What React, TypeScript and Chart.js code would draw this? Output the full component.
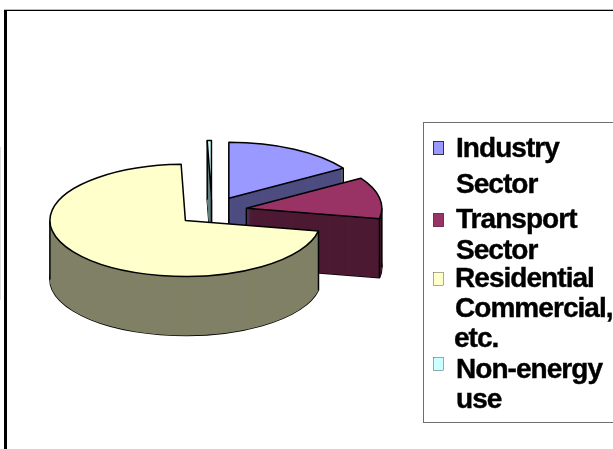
import React, { useEffect, useRef } from "react";
import { Chart, registerables } from "chart.js";

Chart.register(...registerables);

const categories = ["Industry Sector", "Transport Sector", "Residential Commercial, etc.", "Non-energy use"];
const shareValues = [16, 12, 71.5, 0.5];
const topColors = ["#9999FF", "#993366", "#FFFFCC", "#CCFFFF"];
const wallColors = ["#4D4D80", "#4D1A33", "#808066", "#668080"];
const legendLines = [["Industry", "Sector"], ["Transport", "Sector"], ["Residential", "Commercial,", "etc."], ["Non-energy", "use"]];

const TILT = 0.414;
const DEPTH = 59;
const EXPLODE = 35;

function sector(ctx: CanvasRenderingContext2D, cx: number, cy: number, r: number, a0: number, a1: number) {
  ctx.beginPath();
  ctx.moveTo(cx, cy);
  ctx.ellipse(cx, cy, r, r * TILT, 0, a0, a1);
  ctx.closePath();
}

const pie3d = {
  id: "pie3d",
  beforeDraw(chart: any) {
    const ctx = chart.ctx as CanvasRenderingContext2D;
    ctx.save();
    ctx.fillStyle = "#fff";
    ctx.fillRect(0, 0, chart.width, chart.height);
    ctx.fillStyle = "#bbb";
    ctx.fillRect(4, 9, chart.width - 4, 1);
    ctx.fillStyle = "#000";
    ctx.fillRect(4, 10, chart.width - 4, 1);
    ctx.fillRect(4, 10, 3, chart.height - 10);
    ctx.fillStyle = "#ddd";
    ctx.fillRect(0, 147, 1, 153);
    ctx.restore();
  },
  beforeDatasetDraw(chart: any) {
    const ctx = chart.ctx as CanvasRenderingContext2D;
    const arcs = chart.getDatasetMeta(0).data as any[];
    const order = arcs
      .map((arc, i) => ({ arc, i, mid: (arc.startAngle + arc.endAngle) / 2 }))
      .sort((p, q) => Math.sin(p.mid) - Math.sin(q.mid));
    ctx.save();
    ctx.lineJoin = "round";
    for (const { arc, i, mid } of order) {
      const r = arc.outerRadius;
      const a0 = arc.startAngle;
      const a1 = arc.endAngle;
      const cx = arc.x + Math.cos(mid) * EXPLODE;
      const cy = arc.y + Math.sin(mid) * EXPLODE * TILT;

      ctx.strokeStyle = "#000";
      ctx.lineWidth = 1.5;
      sector(ctx, cx, cy + DEPTH, r, a0, a1);
      ctx.stroke();
      ctx.fillStyle = wallColors[i];
      for (let d = DEPTH; d >= 0; d--) {
        sector(ctx, cx, cy + d, r, a0, a1);
        ctx.fill();
      }

      const startFace = -Math.cos(a0) > 0;
      const endFace = Math.cos(a1) > 0;
      const edges: number[] = [];
      if (Math.sin(a0) > 0 || startFace) edges.push(a0);
      if (Math.sin(a1) > 0 || endFace) edges.push(a1);
      for (const t of [0, Math.PI, 2 * Math.PI]) if (t > a0 && t < a1) edges.push(t);
      const vertical = (x: number, y: number) => {
        ctx.beginPath();
        ctx.moveTo(x, y);
        ctx.lineTo(x, y + DEPTH);
        ctx.stroke();
      };
      for (const e of edges) vertical(cx + Math.cos(e) * r, cy + Math.sin(e) * r * TILT);
      if (startFace || endFace) vertical(cx, cy);

      ctx.save();
      ctx.translate(cx, cy);
      ctx.scale(1, TILT);
      ctx.translate(-arc.x, -arc.y);
      arc.draw(ctx);
      ctx.restore();

      ctx.strokeStyle = "#000";
      ctx.lineWidth = 1.5;
      sector(ctx, cx, cy, r, a0, a1);
      ctx.stroke();
    }
    ctx.restore();
    return false;
  },
  afterDraw(chart: any) {
    const ctx = chart.ctx as CanvasRenderingContext2D;
    ctx.save();
    ctx.strokeStyle = "#6e6e6e";
    ctx.lineWidth = 1;
    ctx.strokeRect(423.5, 122.5, 200, 300);
    const swatchY = [141, 213, 272, 357];
    const firstX = [456, 456, 455, 456];
    const rows = [[157, 193], [228, 259], [287, 317, 347], [378, 408]];
    const restX = [[456], [456], [455, 454], [456]];
    categories.forEach((_, i) => {
      ctx.fillStyle = topColors[i];
      ctx.strokeStyle = "#333";
      ctx.fillRect(433, swatchY[i], 11, 14);
      ctx.strokeRect(433.5, swatchY[i] + 0.5, 10, 13);
      ctx.fillStyle = "#000";
      ctx.strokeStyle = "#000";
      ctx.lineWidth = 0.4;
      ctx.font = "bold 28px 'Liberation Sans'";
      (ctx as any).letterSpacing = "-0.95px";
      ctx.textBaseline = "alphabetic";
      legendLines[i].forEach((line, j) => {
        const x = j === 0 ? firstX[i] : restX[i][j - 1];
        ctx.fillText(line, x, rows[i][j]);
        ctx.strokeText(line, x, rows[i][j]);
      });
    });
    ctx.restore();
  },
};

export default function App() {
  const ref = useRef<HTMLCanvasElement>(null);
  useEffect(() => {
    const chart = new Chart(ref.current as HTMLCanvasElement, {
      type: "pie",
      data: {
        labels: categories,
        datasets: [{ data: shareValues, backgroundColor: topColors, borderWidth: 0 }],
      },
      options: {
        responsive: false,
        animation: false,
        radius: 135.5,
        layout: { padding: { right: 189, bottom: 27 } },
        plugins: { legend: { display: false }, tooltip: { enabled: false } },
      },
      plugins: [pie3d],
    } as any);
    return () => chart.destroy();
  }, []);
  return (
    <div style={{ position: "fixed", left: 0, top: 0, width: 613, height: 449, background: "#fff", overflow: "hidden" }}>
      <canvas ref={ref} width={613} height={449} style={{ display: "block" }} />
    </div>
  );
}
